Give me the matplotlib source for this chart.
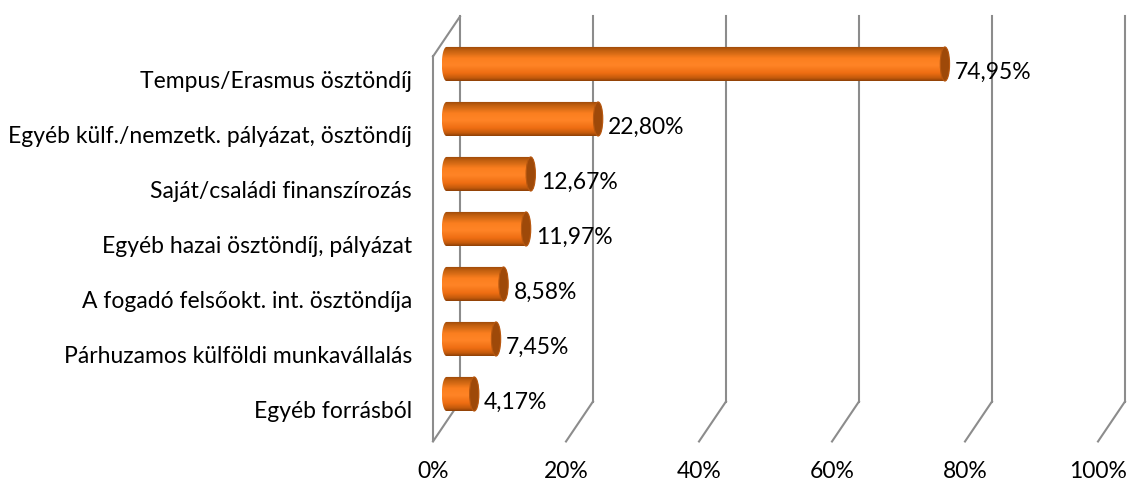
import numpy as np
import matplotlib.pyplot as plt
from matplotlib.patches import Ellipse, PathPatch
from matplotlib.path import Path
from matplotlib.colors import LinearSegmentedColormap

plt.rcParams['font.family'] = ['Lato', 'DejaVu Sans']

# data
categories = [
    "Tempus/Erasmus ösztöndíj",
    "Egyéb külf./nemzetk. pályázat, ösztöndíj",
    "Saját/családi finanszírozás",
    "Egyéb hazai ösztöndíj, pályázat",
    "A fogadó felsőokt. int. ösztöndíja",
    "Párhuzamos külföldi munkavállalás",
    "Egyéb forrásból",
]
values = [74.95, 22.80, 12.67, 11.97, 8.58, 7.45, 4.17]
ticks = [0, 20, 40, 60, 80, 100]
tick_labels = ["0%", "20%", "40%", "60%", "80%", "100%"]

# 3D look: depth offset of the back wall (x in %, y in category units)
DX = 4.06
DY = -0.727
FLOOR = len(categories) - 0.5
TOP = -0.5
hh = 0.31      # half height of a cylinder
cap_a = 0.7    # half width of the end ellipse
fs = 16.5

grid_col = "#8c8c8c"
body_cmap = LinearSegmentedColormap.from_list("cyl", [
    (0.0, "#9a4708"), (0.12, "#c2600f"), (0.35, "#fb7f1f"),
    (0.55, "#ff8426"), (0.78, "#ee6d12"), (0.92, "#c35a0c"), (1.0, "#8f4107")])

fig = plt.figure(figsize=(11.27, 4.84), dpi=100)
ax = fig.add_axes([0, 0, 1, 1])
ax.axis("off")

# back wall + floor lines
for t in ticks:
    ax.plot([t + DX, t + DX], [TOP + DY, FLOOR + DY], color=grid_col, lw=1.5, zorder=1)
    ax.plot([t, t + DX], [FLOOR, FLOOR + DY], color=grid_col, lw=1.5, zorder=1)
# side wall
ax.plot([0, 0], [TOP, FLOOR], color=grid_col, lw=1.5, zorder=1)
ax.plot([0, DX], [TOP, TOP + DY], color=grid_col, lw=1.5, zorder=1)

grad = np.linspace(0, 1, 64).reshape(-1, 1)
th = np.linspace(np.pi / 2, 3 * np.pi / 2, 40)
for i, v in enumerate(values):
    yc = i + DY / 2
    x0 = DX / 2
    x1 = v + DX / 2
    # silhouette: left half ellipse, right half ellipse
    left = np.column_stack([x0 + cap_a * np.cos(th), yc - hh * np.sin(th)])
    right = np.column_stack([x1 - cap_a * np.cos(th), yc + hh * np.sin(th)])
    verts = np.vstack([left, right, left[:1]])
    patch = PathPatch(Path(verts, closed=True), facecolor="none", edgecolor="none")
    ax.add_patch(patch)
    im = ax.imshow(grad, extent=(x0 - cap_a, x1 + cap_a, yc + hh, yc - hh),
                   aspect="auto", cmap=body_cmap, origin="upper", zorder=3,
                   interpolation="bilinear")
    im.set_clip_path(patch)
    ax.add_patch(Ellipse((x1, yc), 2 * cap_a, 2 * hh, facecolor="#9e4909",
                         edgecolor="#b85810", lw=0.8, zorder=4))
    ax.text(x1 + cap_a + 0.8, i + DY / 2 + 0.16, f"{v:.2f}%".replace(".", ","),
            ha="left", va="center", fontsize=fs, color="black", zorder=5)

for i, c in enumerate(categories):
    ax.text(-3.16, i - 0.05, c, ha="right", va="center", fontsize=fs)

for t, lab in zip(ticks, tick_labels):
    ax.text(t, 7.05, lab, ha="center", va="center", fontsize=fs)

ax.set_xlim(-65.11, 104.36)
ax.set_ylim(7.273, -1.527)

fig.savefig("out.png", dpi=100)
